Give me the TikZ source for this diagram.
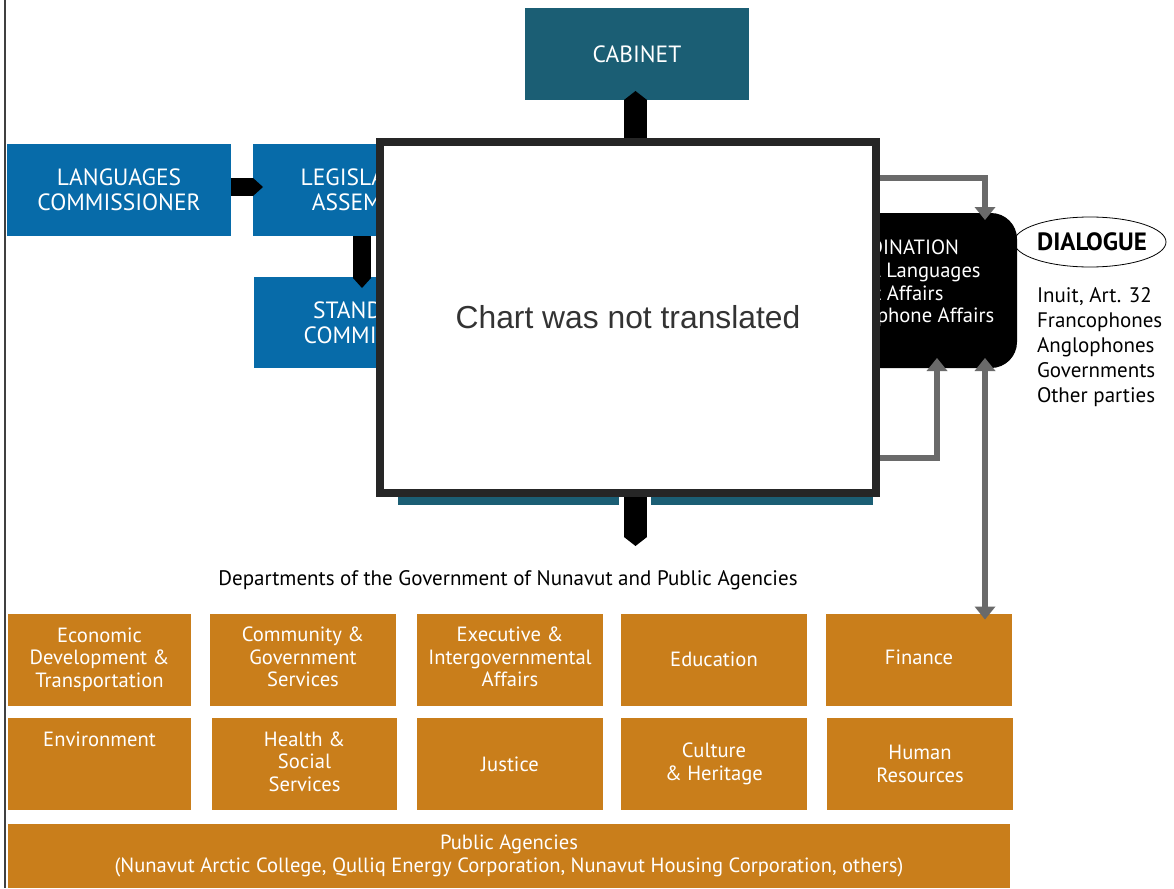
\documentclass[tikz,border=0pt]{standalone}
\usepackage{fontspec}
\setmainfont{PT Sans}
\newfontfamily\notefont{Liberation Sans}
\usetikzlibrary{arrows.meta,calc,shapes.geometric}
\definecolor{cteal}{HTML}{1B5E74}
\definecolor{cblue}{HTML}{076BA9}
\definecolor{corange}{HTML}{C97E1B}
\definecolor{cgray}{HTML}{6A6A6A}
\definecolor{cborder}{HTML}{262626}
\pgfdeclarelayer{bg}
\pgfsetlayers{bg,main}
\begin{document}
\begin{tikzpicture}[x=1pt,y=-1pt,
  box/.style={rectangle, inner sep=0pt, outer sep=0pt, text=white, align=center},
  bluebox/.style={box, fill=cblue, minimum width=224pt, minimum height=92pt, font=\fontsize{23.5}{25}\selectfont},
  tealbox/.style={box, fill=cteal, minimum width=224pt, minimum height=92pt, font=\fontsize{23.5}{25}\selectfont},
  orbox/.style={box, fill=corange, minimum height=92pt, font=\fontsize{20.6}{22.5}\selectfont},
  raised/.style={text depth=5.5pt},
  plaintext/.style={inner sep=0pt, outer sep=0pt, align=left},
  blkarrA/.style={draw=black, line width=18pt, -{Triangle[width=18pt,length=10pt,line width=0pt]}},
  blkarrB/.style={draw=black, line width=23pt, -{Triangle[width=23pt,length=9pt,line width=0pt]}},
  grayarr/.style={draw=cgray, line width=6.5pt, -{Triangle[width=21pt,length=13pt,line width=0pt]}},
  grayarr2/.style={draw=cgray, line width=6.5pt, {Triangle[width=21pt,length=13pt,line width=0pt]}-{Triangle[width=21pt,length=13pt,line width=0pt]}},
  grayline/.style={draw=cgray, line width=6.5pt}
]
\useasboundingbox (0,0) rectangle (1174,888);
\fill[white] (0,0) rectangle (1174,888);
\draw[color=black!75, line width=1.2pt] (5,0) -- (5,888);

% top boxes
\node[tealbox] (cab) at (637,54) {CABINET};
\node[bluebox] (lc) at (119,190) {LANGUAGES\\COMMISSIONER};
\node[bluebox] (la) at (365,190) {LEGISLATIVE\\ASSEMBLY};
\node[bluebox, minimum height=91pt] (sc) at (366,322.5) {STANDING\\COMMITTEE};

% coordination box
\node[rectangle, rounded corners=26pt, fill=black, minimum width=247pt, minimum height=155pt, inner sep=0pt, outer sep=0pt] (coord) at (893.5,290.5) {};
\node[plaintext, text=white, anchor=north west, font=\fontsize{20.6}{22.7}\selectfont] (coordtxt) at (818,240) {COORDINATION\\Official Languages\\Inuktut Affairs\\Francophone Affairs};

% hidden teal boxes below
\node[tealbox, minimum width=221pt, minimum height=105pt] (tb1) at (508.5,452.5) {};
\node[tealbox, minimum width=222pt, minimum height=105pt] (tb2) at (762,452.5) {};

% white overlay box
\node[rectangle, draw=cborder, fill=white, line width=8pt, minimum width=496pt, minimum height=351pt, inner sep=0pt, font=\notefont\fontsize{31.8}{36}\selectfont, text=black!80] (wb) at (628,317.5) {Chart was not translated};

% dialogue
\node[ellipse, draw=black, line width=0.8pt, minimum width=152pt, minimum height=50pt, inner sep=0pt] (dlg) at (1090,242) {};
\node[inner sep=0pt, font=\fontsize{25}{28}\selectfont\bfseries] (dlgt) at ([xshift=2pt]dlg.center) {DIALOGUE};
\node[plaintext, anchor=north west, font=\fontsize{21}{25}\selectfont] (parties) at (1037,288) {Inuit, Art. 32\\Francophones\\Anglophones\\Governments\\Other parties};

% departments
\node[inner sep=0pt, font=\fontsize{21}{24}\selectfont] (dept) at (508,580.5) {Departments of the Government of Nunavut and Public Agencies};

\node[orbox, minimum width=183pt] (econ) at (99.5,659.5) {Economic\\Development \&\\Transportation};
\node[orbox, raised, minimum width=186pt] (comm) at (303,659.5) {Community \&\\Government\\Services};
\node[orbox, raised, minimum width=186pt] (exec) at (510,659.5) {Executive \&\\Intergovernmental\\Affairs};
\node[orbox, minimum width=186pt] (edu) at (714,659.5) {Education};
\node[orbox, raised, minimum width=186pt] (fin) at (919,659.5) {Finance};

\node[orbox, minimum width=183pt] (env) at (99.5,764) {};
\node[inner sep=0pt, text=white, font=\fontsize{20.6}{22.5}\selectfont] (envt) at ($(env.north)+(0,21)$) {Environment};
\node[orbox, raised, minimum width=185pt] (health) at (304.5,764) {Health \&\\Social\\Services};
\node[orbox, minimum width=186pt] (just) at (510,764) {Justice};
\node[orbox, minimum width=186pt] (cult) at (714,764) {Culture\\\& Heritage};
\node[orbox, minimum width=186pt] (hr) at (920,764) {Human\\Resources};

\node[orbox, minimum width=1002pt, minimum height=64pt] (pa) at (509,856) {Public Agencies\\(Nunavut Arctic College, Qulliq Energy Corporation, Nunavut Housing Corporation, others)};

% connectors
\coordinate (gtop) at (985,178);
\coordinate (gbot) at (937,458);
\coordinate (dtip) at (635.5,546);

\draw[blkarrA] ([yshift=3pt]lc.east) -- ([yshift=3pt,xshift=10pt]la.west);
\draw[blkarrA] ([xshift=-3pt]la.south) -- ([xshift=-4pt,yshift=-11pt]sc.north);
\draw[blkarrB] ([xshift=7.5pt]wb.north) -- ([xshift=-1.5pt,yshift=9pt]cab.south);
\draw[blkarrB] ([xshift=7.5pt]wb.south) -- (dtip);

\draw[grayarr] (wb.east |- gtop) -| ([yshift=-7pt]coord.north -| gtop);
\draw[grayarr] (wb.east |- gbot) -| ([yshift=10pt]coord.south -| gbot);
\draw[grayarr2] ([yshift=10pt]coord.south -| gtop) -- ([yshift=-6pt]fin.north -| gtop);
\begin{pgfonlayer}{bg}
\draw[grayline] (fin.north -| gtop) -- (pa.north -| gtop);
\end{pgfonlayer}
\end{tikzpicture}
\end{document}
